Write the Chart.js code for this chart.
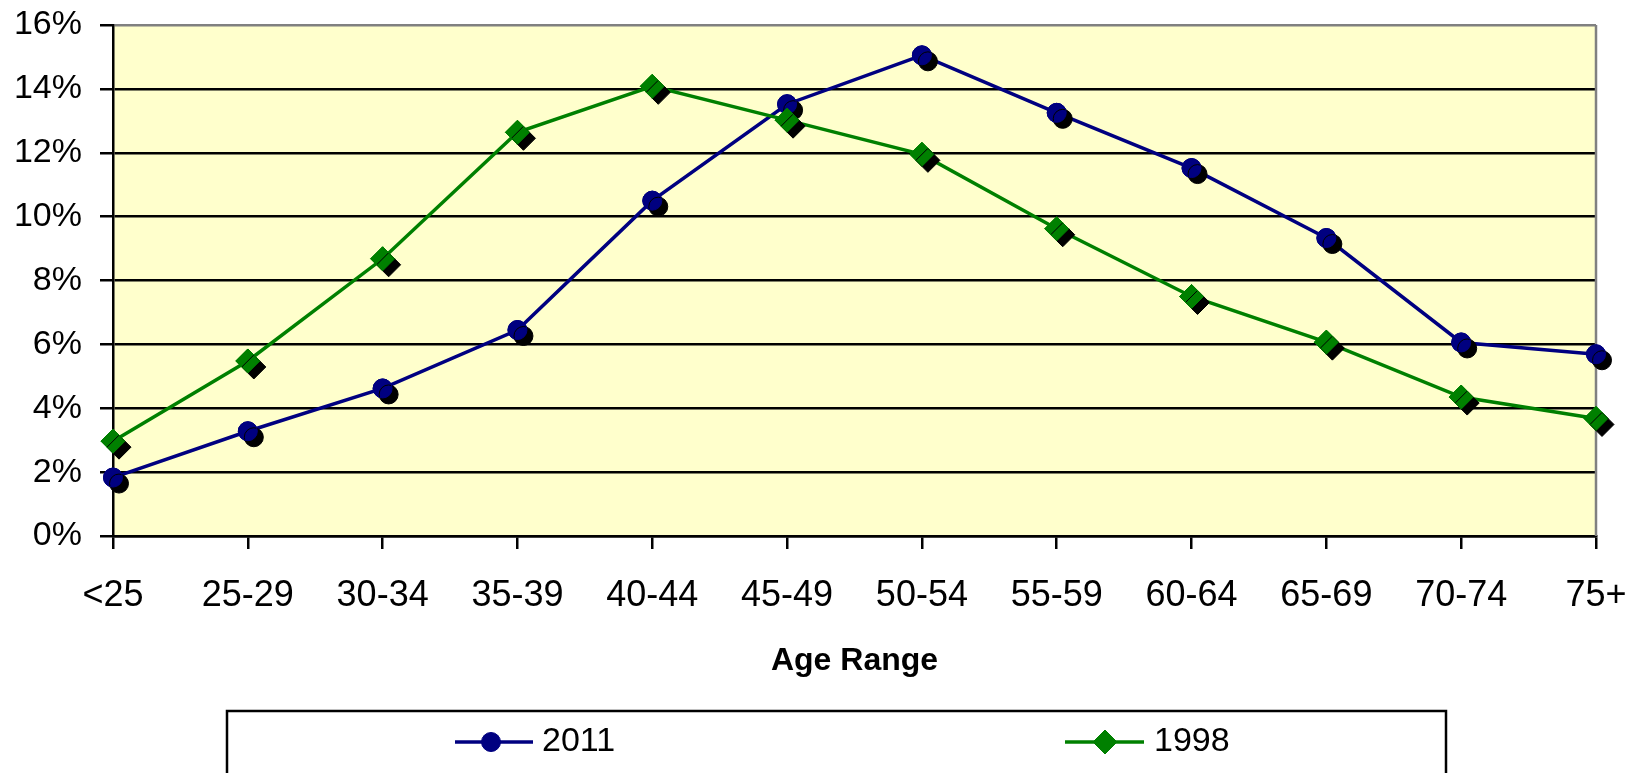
<!DOCTYPE html>
<html>
<head>
<meta charset="utf-8">
<script src="https://cdn.jsdelivr.net/npm/chart.js@4/dist/chart.umd.min.js"></script>
<style>
html,body{margin:0;padding:0;background:#ffffff;}
canvas{display:block;}
</style>
</head>
<body>
<canvas id="c" width="1642" height="773"></canvas>
<script>
// ---- data ----
const categories = ['<25','25-29','30-34','35-39','40-44','45-49','50-54','55-59','60-64','65-69','70-74','75+'];
const values2011 = [1.83, 3.28, 4.62, 6.45, 10.5, 13.52, 15.05, 13.25, 11.52, 9.33, 6.06, 5.69];
const values1998 = [2.97, 5.48, 8.68, 12.64, 14.08, 13.02, 11.95, 9.62, 7.5, 6.07, 4.35, 3.68];
const seriesNames = ['2011', '1998'];
const xAxisTitle = 'Age Range';
const yMin = 0, yMax = 16, yStep = 2;

const FONT = '"Liberation Sans", Arial, sans-serif';
const BLUE = '#000080';
const GREEN = '#008000';

const bgPlugin = {
  id: 'bg',
  beforeDraw(chart) {
    const {ctx, chartArea: a} = chart;
    ctx.save();
    ctx.fillStyle = '#ffffff';
    ctx.fillRect(0, 0, chart.width, chart.height);
    ctx.fillStyle = '#FFFFCC';
    ctx.fillRect(a.left, a.top, a.right - a.left, a.bottom - a.top);
    ctx.restore();
  },
  beforeDatasetsDraw(chart) {
    const {ctx, chartArea: a} = chart;
    ctx.save();
    ctx.strokeStyle = '#808080';
    ctx.lineWidth = 2.5;
    ctx.beginPath();
    ctx.moveTo(a.right, a.top);
    ctx.lineTo(a.right, a.bottom);
    ctx.stroke();
    ctx.restore();
  }
};

const BIG_AREA = {left: -1e5, top: -1e5, right: 1e5, bottom: 1e5};
const shadowPlugin = {
  id: 'markerShadow',
  afterDatasetDraw(chart, args) {
    const ctx = chart.ctx;
    ctx.save();
    ctx.shadowColor = '#000000';
    ctx.shadowOffsetX = 6;
    ctx.shadowOffsetY = 6;
    ctx.shadowBlur = 0;
    args.meta.data.forEach(p => p.draw(ctx, BIG_AREA));
    ctx.restore();
  }
};

const legendPlugin = {
  id: 'boxLegend',
  afterDraw(chart) {
    const ctx = chart.ctx;
    ctx.save();
    ctx.strokeStyle = '#000000';
    ctx.lineWidth = 2.5;
    ctx.strokeRect(227, 711, 1446 - 227, 200);
    const items = [
      {x0: 455, x1: 533, mx: 491, tx: 542},
      {x0: 1065, x1: 1144, mx: 1105, tx: 1154}
    ];
    const y = 742;
    chart.data.datasets.forEach((ds, i) => {
      const it = items[i];
      ctx.strokeStyle = ds.borderColor;
      ctx.lineWidth = 3.5;
      ctx.beginPath();
      ctx.moveTo(it.x0, y);
      ctx.lineTo(it.x1, y);
      ctx.stroke();
      ctx.fillStyle = ds.pointBackgroundColor;
      ctx.strokeStyle = ds.pointBorderColor;
      ctx.lineWidth = 1;
      Chart.helpers.drawPoint(ctx, {pointStyle: ds.pointStyle, radius: ds.pointRadius, borderWidth: 1, rotation: 0}, it.mx, y);
      ctx.fillStyle = '#000000';
      ctx.font = '34px ' + FONT;
      ctx.textBaseline = 'middle';
      ctx.textAlign = 'left';
      ctx.fillText(ds.label, it.tx, y);
    });
    ctx.restore();
  }
};

new Chart(document.getElementById('c'), {
  type: 'line',
  data: {
    labels: categories,
    datasets: [
      {
        label: seriesNames[0],
        data: values2011,
        borderColor: BLUE,
        backgroundColor: BLUE,
        pointBackgroundColor: BLUE,
        pointBorderColor: BLUE,
        pointStyle: 'circle',
        pointRadius: 9.5,
        pointBorderWidth: 1,
        borderWidth: 3.5,
        tension: 0,
        clip: false,
        order: 2
      },
      {
        label: seriesNames[1],
        data: values1998,
        borderColor: GREEN,
        backgroundColor: GREEN,
        pointBackgroundColor: GREEN,
        pointBorderColor: GREEN,
        pointStyle: 'rectRot',
        pointRadius: 12,
        pointBorderWidth: 1,
        borderWidth: 3.5,
        tension: 0,
        clip: false,
        order: 1
      }
    ]
  },
  options: {
    responsive: false,
    animation: false,
    devicePixelRatio: 1,
    layout: {padding: {top: 25, right: 46, bottom: 62, left: 0}},
    plugins: {
      legend: {display: false},
      tooltip: {enabled: false}
    },
    scales: {
      x: {
        type: 'category',
        offset: false,
        grid: {
          display: true,
          drawOnChartArea: false,
          drawTicks: true,
          tickLength: 13,
          tickColor: '#000000',
          tickWidth: 2.5,
          color: '#000000',
          lineWidth: 2.5
        },
        border: {display: true, color: '#000000', width: 2.5},
        ticks: {
          color: '#000000',
          font: {family: FONT, size: 36},
          padding: 25,
          maxRotation: 0,
          autoSkip: false
        },
        title: {
          display: true,
          text: xAxisTitle,
          color: '#000000',
          font: {family: FONT, size: 32, weight: 'bold'},
          padding: {top: 0, bottom: 31}
        },
        afterFit(scale) {
          scale.height = 175;
          scale.paddingLeft = 0;
          scale.paddingRight = 0;
        }
      },
      y: {
        min: yMin,
        max: yMax,
        grid: {
          display: true,
          drawOnChartArea: true,
          drawTicks: true,
          tickLength: 13,
          tickColor: '#000000',
          tickWidth: 2.5,
          lineWidth: 2.5,
          color: (c) => (c.tick && c.tick.value === yMax) ? '#808080' : '#000000'
        },
        border: {display: true, color: '#000000', width: 2.5},
        ticks: {
          stepSize: yStep,
          color: '#000000',
          font: {family: FONT, size: 34},
          padding: 18,
          callback: (v) => v + '%'
        },
        afterFit(scale) {
          scale.width = 113;
          scale.paddingTop = 0;
          scale.paddingBottom = 0;
        }
      }
    }
  },
  plugins: [bgPlugin, shadowPlugin, legendPlugin]
});
</script>
</body>
</html>
